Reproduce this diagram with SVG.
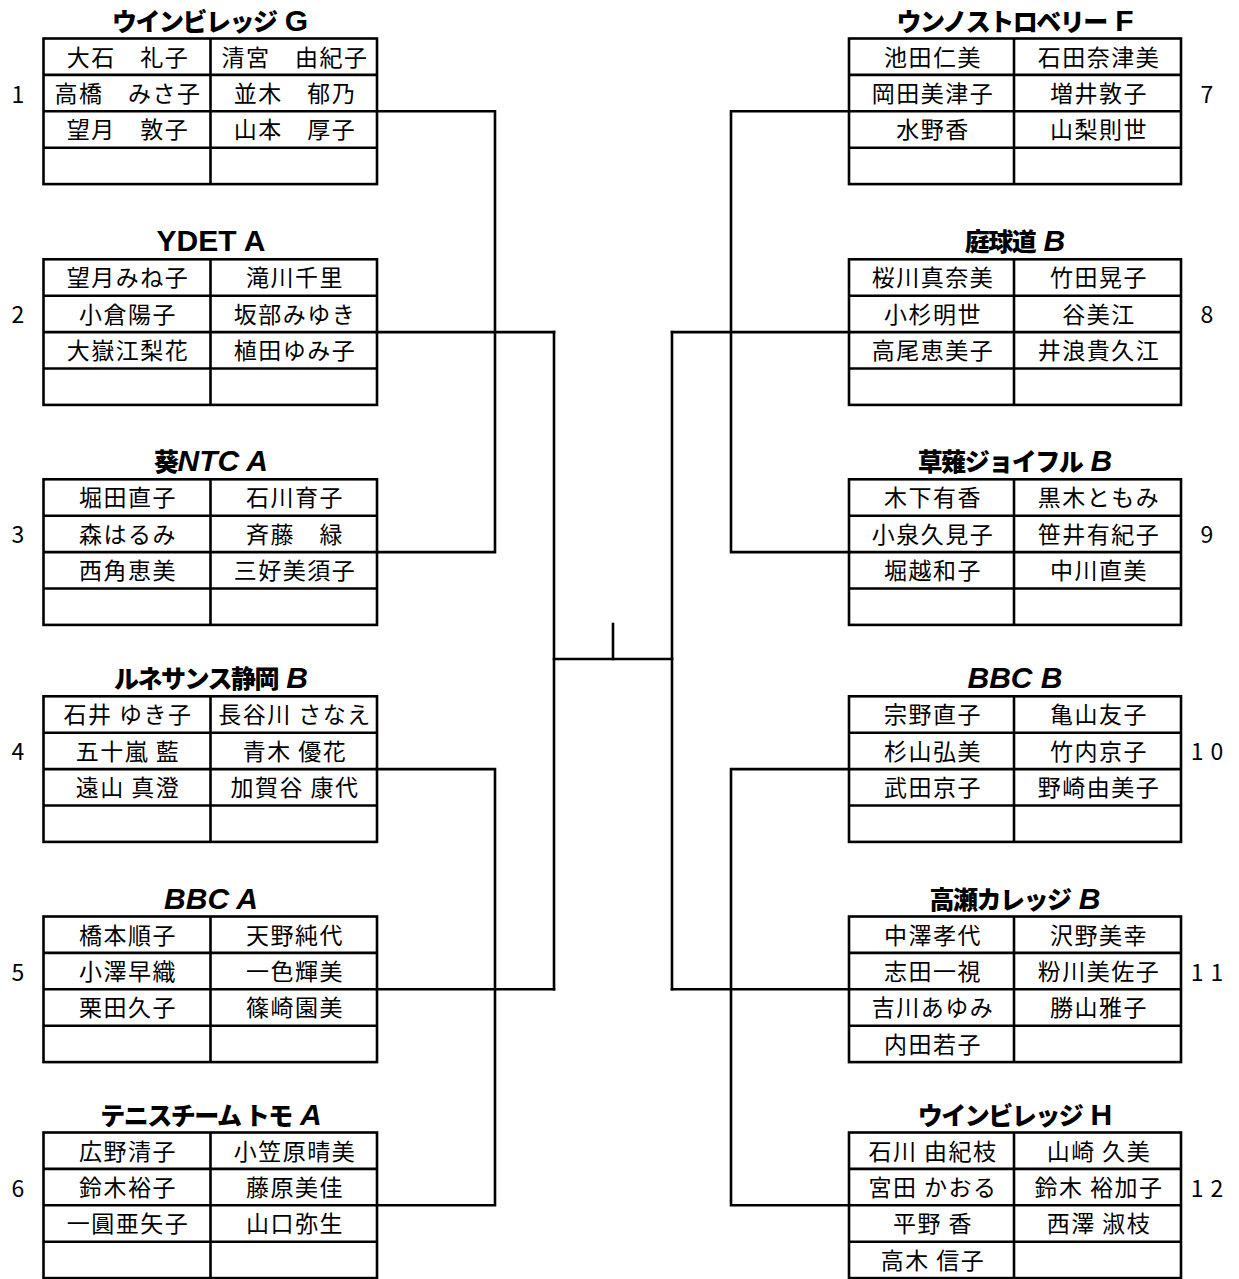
<svg xmlns="http://www.w3.org/2000/svg" width="1239" height="1279" viewBox="0 0 1239 1279">
<style>
.bg{fill:#fff}
.tb{fill:none;stroke:#000;stroke-width:2.6}
.ln{stroke:#000;stroke-width:2.6;fill:none}
.cn{stroke:#000;stroke-width:2.6;fill:none;stroke-linejoin:miter;stroke-linecap:square}
.n{font-family:"Noto Sans CJK JP","Noto Sans",sans-serif;font-size:23px;letter-spacing:1.5px;text-anchor:middle;fill:#000}
.num{font-family:"Noto Sans CJK JP","Noto Sans",sans-serif;font-size:23px;letter-spacing:7px;text-anchor:middle;fill:#000}
.t{text-anchor:middle;fill:#000}
.k{font-family:"Noto Sans CJK JP",sans-serif;font-size:25px;font-weight:900;letter-spacing:-1.5px}
.l{font-family:"Liberation Sans",Arial,sans-serif;font-size:30px;font-weight:bold}
.i{font-style:italic}
</style>
<rect class="bg" x="0" y="0" width="1239" height="1279"/>
<defs>
<g id="grid">
<rect class="tb" x="0" y="0" width="333.5" height="145.6"/>
<line class="ln" x1="167" y1="0" x2="167" y2="145.6"/>
<line class="ln" x1="0" y1="36.4" x2="333.5" y2="36.4"/>
<line class="ln" x1="0" y1="72.8" x2="333.5" y2="72.8"/>
<line class="ln" x1="0" y1="109.2" x2="333.5" y2="109.2"/>
</g>
<g id="gridR">
<rect class="tb" x="0" y="0" width="332" height="145.6"/>
<line class="ln" x1="165" y1="0" x2="165" y2="145.6"/>
<line class="ln" x1="0" y1="36.4" x2="332" y2="36.4"/>
<line class="ln" x1="0" y1="72.8" x2="332" y2="72.8"/>
<line class="ln" x1="0" y1="109.2" x2="332" y2="109.2"/>
</g>
</defs>

<g id="connectors">
<path class="cn" d="M377,111.3 H495 V552.1 H377"/>
<path class="cn" d="M377,332.1 H554"/>
<path class="cn" d="M377,769.1 H495 V1205.3 H377"/>
<path class="cn" d="M377,989.3 H554"/>
<path class="cn" d="M554,332.1 V989.3"/>
<path class="cn" d="M554,659 H672"/>
<path class="cn" d="M613,624 V659"/>
<path class="cn" d="M849,111.3 H731 V552.1 H849"/>
<path class="cn" d="M849,332.1 H672"/>
<path class="cn" d="M849,769.1 H731 V1205.3 H849"/>
<path class="cn" d="M849,989.3 H672"/>
<path class="cn" d="M672,332.1 V989.3"/>
</g>

<g id="team1">
<text class="t" x="210" y="30.5"><tspan class="k">ウインビレッジ</tspan><tspan class="l"> G</tspan></text>
<use href="#grid" x="43.5" y="38.5"/>
<text class="n" x="128" y="65.5">大石　礼子</text><text class="n" x="295" y="65.5">清宮　由紀子</text>
<text class="n" x="128" y="101.9">高橋　みさ子</text><text class="n" x="295" y="101.9">並木　郁乃</text>
<text class="n" x="128" y="138.3">望月　敦子</text><text class="n" x="295" y="138.3">山本　厚子</text>
<text class="num" x="21.5" y="102.5">1</text>
</g>

<g id="team2">
<text class="t" x="211" y="251.3"><tspan class="l">YDET A</tspan></text>
<use href="#grid" x="43.5" y="259.3"/>
<text class="n" x="128" y="286.3">望月みね子</text><text class="n" x="295" y="286.3">滝川千里</text>
<text class="n" x="128" y="322.7">小倉陽子</text><text class="n" x="295" y="322.7">坂部みゆき</text>
<text class="n" x="128" y="359.1">大嶽江梨花</text><text class="n" x="295" y="359.1">植田ゆみ子</text>
<text class="num" x="21.5" y="323.3">2</text>
</g>

<g id="team3">
<text class="t" x="211" y="471.3"><tspan class="k">葵</tspan><tspan class="l i">NTC A</tspan></text>
<use href="#grid" x="43.5" y="479.3"/>
<text class="n" x="128" y="506.3">堀田直子</text><text class="n" x="295" y="506.3">石川育子</text>
<text class="n" x="128" y="542.7">森はるみ</text><text class="n" x="295" y="542.7">斉藤　緑</text>
<text class="n" x="128" y="579.1">西角恵美</text><text class="n" x="295" y="579.1">三好美須子</text>
<text class="num" x="21.5" y="543.3">3</text>
</g>

<g id="team4">
<text class="t" x="211" y="688.3"><tspan class="k">ルネサンス静岡</tspan><tspan class="l i"> B</tspan></text>
<use href="#grid" x="43.5" y="696.3"/>
<text class="n" x="128" y="723.3">石井 ゆき子</text><text class="n" x="295" y="723.3">長谷川 さなえ</text>
<text class="n" x="128" y="759.7">五十嵐 藍</text><text class="n" x="295" y="759.7">青木 優花</text>
<text class="n" x="128" y="796.1">遠山 真澄</text><text class="n" x="295" y="796.1">加賀谷 康代</text>
<text class="num" x="21.5" y="760.3">4</text>
</g>

<g id="team5">
<text class="t" x="211" y="908.5"><tspan class="l i">BBC A</tspan></text>
<use href="#grid" x="43.5" y="916.5"/>
<text class="n" x="128" y="943.5">橋本順子</text><text class="n" x="295" y="943.5">天野純代</text>
<text class="n" x="128" y="979.9">小澤早織</text><text class="n" x="295" y="979.9">一色輝美</text>
<text class="n" x="128" y="1016.3">栗田久子</text><text class="n" x="295" y="1016.3">篠崎園美</text>
<text class="num" x="21.5" y="980.5">5</text>
</g>

<g id="team6">
<text class="t" x="211" y="1124.5"><tspan class="k">テニスチーム トモ</tspan><tspan class="l i"> A</tspan></text>
<use href="#grid" x="43.5" y="1132.5"/>
<text class="n" x="128" y="1159.5">広野清子</text><text class="n" x="295" y="1159.5">小笠原晴美</text>
<text class="n" x="128" y="1195.9">鈴木裕子</text><text class="n" x="295" y="1195.9">藤原美佳</text>
<text class="n" x="128" y="1232.3">一圓亜矢子</text><text class="n" x="295" y="1232.3">山口弥生</text>
<text class="num" x="21.5" y="1196.5">6</text>
</g>

<g id="team7">
<text class="t" x="1015" y="30.5"><tspan class="k">ウンノストロベリー</tspan><tspan class="l"> F</tspan></text>
<use href="#gridR" x="849" y="38.5"/>
<text class="n" x="933" y="65.5">池田仁美</text><text class="n" x="1099" y="65.5">石田奈津美</text>
<text class="n" x="933" y="101.9">岡田美津子</text><text class="n" x="1099" y="101.9">増井敦子</text>
<text class="n" x="933" y="138.3">水野香</text><text class="n" x="1099" y="138.3">山梨則世</text>
<text class="num" x="1210.5" y="102.5">7</text>
</g>

<g id="team8">
<text class="t" x="1015" y="251.3"><tspan class="k">庭球道</tspan><tspan class="l i"> B</tspan></text>
<use href="#gridR" x="849" y="259.3"/>
<text class="n" x="933" y="286.3">桜川真奈美</text><text class="n" x="1099" y="286.3">竹田晃子</text>
<text class="n" x="933" y="322.7">小杉明世</text><text class="n" x="1099" y="322.7">谷美江</text>
<text class="n" x="933" y="359.1">高尾恵美子</text><text class="n" x="1099" y="359.1">井浪貴久江</text>
<text class="num" x="1210.5" y="323.3">8</text>
</g>

<g id="team9">
<text class="t" x="1015" y="471.3"><tspan class="k">草薙ジョイフル</tspan><tspan class="l i"> B</tspan></text>
<use href="#gridR" x="849" y="479.3"/>
<text class="n" x="933" y="506.3">木下有香</text><text class="n" x="1099" y="506.3">黒木ともみ</text>
<text class="n" x="933" y="542.7">小泉久見子</text><text class="n" x="1099" y="542.7">笹井有紀子</text>
<text class="n" x="933" y="579.1">堀越和子</text><text class="n" x="1099" y="579.1">中川直美</text>
<text class="num" x="1210.5" y="543.3">9</text>
</g>

<g id="team10">
<text class="t" x="1015" y="688.3"><tspan class="l i">BBC B</tspan></text>
<use href="#gridR" x="849" y="696.3"/>
<text class="n" x="933" y="723.3">宗野直子</text><text class="n" x="1099" y="723.3">亀山友子</text>
<text class="n" x="933" y="759.7">杉山弘美</text><text class="n" x="1099" y="759.7">竹内京子</text>
<text class="n" x="933" y="796.1">武田京子</text><text class="n" x="1099" y="796.1">野崎由美子</text>
<text class="num" x="1210.5" y="760.3">10</text>
</g>

<g id="team11">
<text class="t" x="1015" y="908.5"><tspan class="k">高瀬カレッジ</tspan><tspan class="l i"> B</tspan></text>
<use href="#gridR" x="849" y="916.5"/>
<text class="n" x="933" y="943.5">中澤孝代</text><text class="n" x="1099" y="943.5">沢野美幸</text>
<text class="n" x="933" y="979.9">志田一視</text><text class="n" x="1099" y="979.9">粉川美佐子</text>
<text class="n" x="933" y="1016.3">吉川あゆみ</text><text class="n" x="1099" y="1016.3">勝山雅子</text>
<text class="n" x="933" y="1052.7">内田若子</text>
<text class="num" x="1210.5" y="980.5">11</text>
</g>

<g id="team12">
<text class="t" x="1015" y="1124.5"><tspan class="k">ウインビレッジ</tspan><tspan class="l"> H</tspan></text>
<use href="#gridR" x="849" y="1132.5"/>
<text class="n" x="933" y="1159.5">石川 由紀枝</text><text class="n" x="1099" y="1159.5">山崎 久美</text>
<text class="n" x="933" y="1195.9">宮田 かおる</text><text class="n" x="1099" y="1195.9">鈴木 裕加子</text>
<text class="n" x="933" y="1232.3">平野 香</text><text class="n" x="1099" y="1232.3">西澤 淑枝</text>
<text class="n" x="933" y="1268.7">高木 信子</text>
<text class="num" x="1210.5" y="1196.5">12</text>
</g>
</svg>
